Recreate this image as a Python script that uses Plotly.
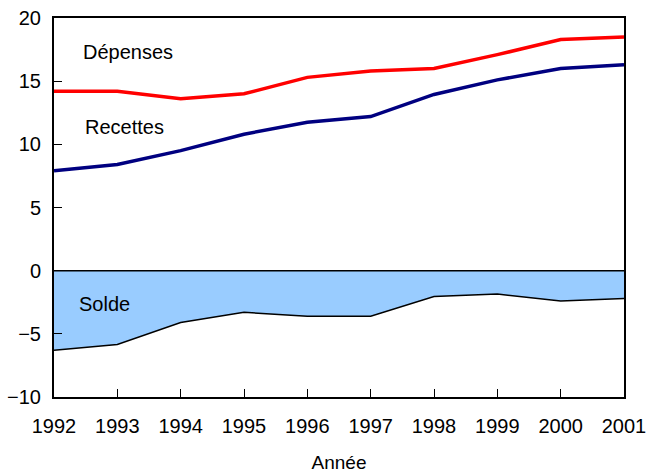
import plotly.graph_objects as go

years = [1992, 1993, 1994, 1995, 1996, 1997, 1998, 1999, 2000, 2001]
depenses = [14.2, 14.2, 13.6, 14.0, 15.3, 15.8, 16.0, 17.1, 18.3, 18.5]
recettes = [7.9, 8.4, 9.5, 10.8, 11.75, 12.2, 13.95, 15.1, 16.0, 16.3]
solde = [-6.3, -5.85, -4.1, -3.3, -3.6, -3.6, -2.05, -1.85, -2.4, -2.2]
y_ticks = [-10, -5, 0, 5, 10, 15, 20]

FONT = "Liberation Sans, Arial, sans-serif"

fig = go.Figure()
fig.add_trace(go.Scatter(x=years, y=solde, mode="lines", fill="tozeroy",
                         fillcolor="#99CCFF", line=dict(color="black", width=1.5),
                         showlegend=False, hoverinfo="skip"))
fig.add_trace(go.Scatter(x=years, y=depenses, mode="lines",
                         line=dict(color="#FF0000", width=3.5), showlegend=False))
fig.add_trace(go.Scatter(x=years, y=recettes, mode="lines",
                         line=dict(color="#000080", width=3.5), showlegend=False))

fig.add_hline(y=0, line=dict(color="black", width=1.5))

fig.add_annotation(x=1993.17, y=17.3, text="Dépenses", showarrow=False,
                   font=dict(size=20, color="black", family=FONT))
fig.add_annotation(x=1993.12, y=11.35, text="Recettes", showarrow=False,
                   font=dict(size=20, color="black", family=FONT))
fig.add_annotation(x=1992.8, y=-2.6, text="Solde", showarrow=False,
                   font=dict(size=20, color="black", family=FONT))

fig.update_layout(
    width=648, height=473,
    margin=dict(l=54, r=24, t=18, b=76),
    plot_bgcolor="white", paper_bgcolor="white",
    font=dict(family=FONT, size=20, color="black"),
)
fig.update_xaxes(range=[1992, 2001], tickvals=years, ticks="inside", ticklen=8,
                 tickcolor="black", showline=True, linecolor="black", linewidth=2,
                 mirror=True, showgrid=False, zeroline=False, automargin=False,
                 ticklabelstandoff=10,
                 title=dict(text="Année", standoff=20, font=dict(size=19)))
fig.update_yaxes(range=[-10, 20], tickvals=y_ticks, ticks="inside", ticklen=8,
                 tickcolor="black", showline=True, linecolor="black", linewidth=2,
                 mirror=True, showgrid=False, zeroline=False, automargin=False,
                 ticklabelstandoff=7)

fig.write_html("out.html", config={"displayModeBar": False},
               post_script="document.body.style.margin='0';")
